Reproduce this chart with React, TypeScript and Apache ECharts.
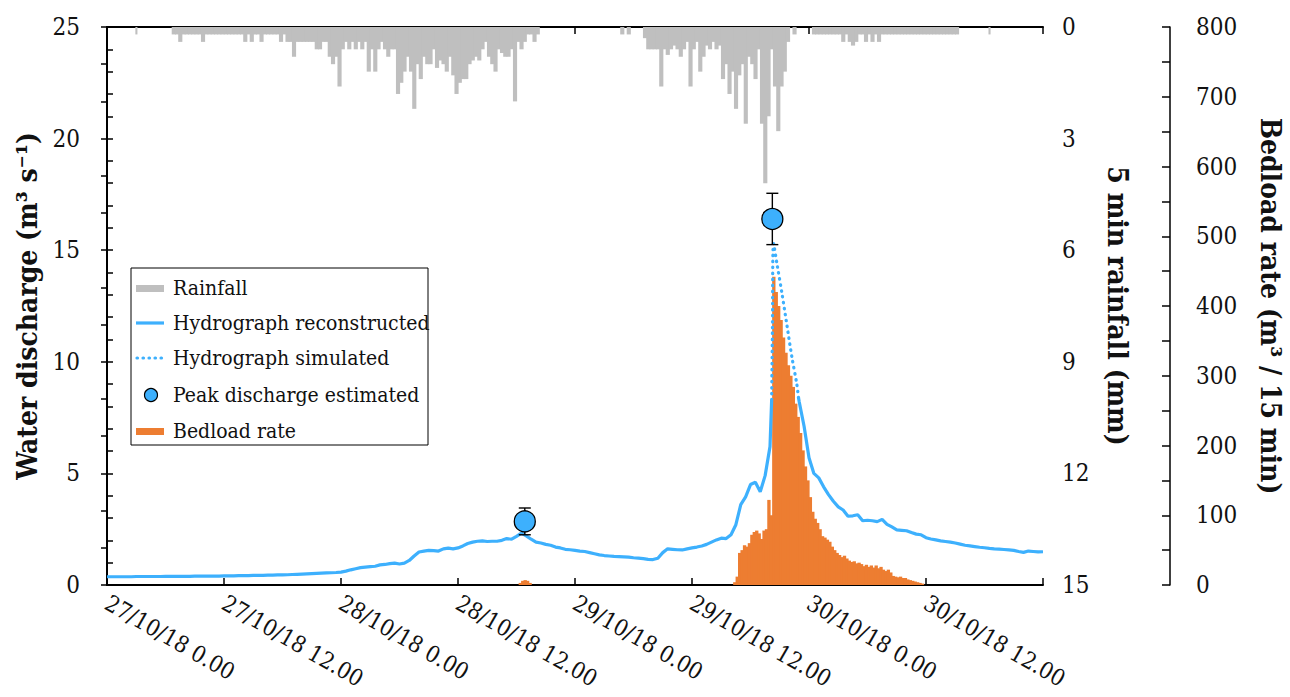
import React, { useEffect, useRef } from 'react';
import * as echarts from 'echarts';

// ---- X axis (hours from 27/10/18 0.00) ----
const xTickLabels = [
  '27/10/18 0.00', '27/10/18 12.00', '28/10/18 0.00', '28/10/18 12.00',
  '29/10/18 0.00', '29/10/18 12.00', '30/10/18 0.00', '30/10/18 12.00', '',
];

// ---- Rainfall (mm per 5 min), 20-min bins, three rain windows ----
const rainStep = 1 / 3;
const rainStart1 = 6.667;
const rain1 = [
  0.2, 0.2, 0.4, 0.2, 0.2, 0.2, 0.2, 0.2, 0.2, 0.4, 0.2, 0.2, 0.2, 0.2, 0.2,
  0.2, 0.2, 0.2, 0.2, 0.2, 0.2, 0.2, 0.4, 0.2, 0.4, 0.2, 0.2, 0.4, 0.2, 0.2,
  0.2, 0.2, 0.2, 0.4, 0.2, 0.4, 0.4, 0.8, 0.4, 0.4, 0.4, 0.4, 0.4, 0.4, 0.6,
  0.6, 0.4, 0.4, 0.8, 1.0, 0.8, 1.6, 0.6, 0.4, 0.6, 0.4, 0.6, 0.4, 0.6, 0.4,
  1.2, 0.6, 1.2, 0.6, 0.4, 0.6, 0.8, 0.6, 0.6, 1.8, 1.5, 1.2, 0.8, 1.2, 2.2,
  1.0, 1.4, 0.8, 1.0, 1.0, 0.6, 1.1, 0.9, 1.0, 1.2, 0.8, 1.3, 1.8, 1.5, 1.4,
  1.4, 1.0, 0.9, 0.8, 0.9, 0.6, 0.4, 0.8, 1.0, 1.2, 0.6, 0.7, 0.8, 0.8, 0.6,
  2.0, 0.4, 0.6, 0.4, 0.2, 0.2, 0.4, 0.2,
];
const rainStart2 = 52.667;
const rain2 = [
  0.2, 0, 0.2, 0, 0, 0, 0, 0.3, 0.6, 0.6, 0.6, 0.6, 1.6, 0.6, 0.75,
  0.6, 0.5, 0.6, 0.8, 0.6, 0.4, 1.6, 0.6, 0.4, 1.2, 0.8, 0.5, 0.6, 0.4, 0.6,
  0.5, 1.4, 1.0, 1.8, 1.2, 2.2, 1.3, 1.0, 2.6, 0.8, 1.0, 1.4, 0.6, 2.6, 4.2,
  2.4, 0.6, 1.6, 2.8, 1.6, 1.2, 0.4, 0, 0.2,
];
const rainStart3 = 72.333;
const rain3 = [
  0.2, 0.2, 0.2, 0.2, 0.2, 0.2, 0.2, 0.2, 0.2, 0.4, 0.2, 0.4, 0.5, 0.4, 0.2,
  0.2, 0.4, 0.2, 0.4, 0.2, 0.4, 0.2, 0.2, 0.2, 0.2, 0.2, 0.2, 0.2, 0.2, 0.2,
  0.2, 0.2, 0.2, 0.2, 0.2, 0.2, 0.2, 0.2, 0.2, 0.2, 0.2, 0.2, 0.2, 0.2, 0.2,
];
const rainSingleHours = [3.0, 90.5];
const rainSingleValues = [0.2, 0.2];

// ---- Hydrograph reconstructed (m3/s), 30-min steps from 0 h ----
const hydroStep = 0.5;
const hydroQ = [
  0.37, 0.37, 0.37, 0.37, 0.37, 0.37, 0.38, 0.38, 0.38, 0.38, 0.38, 0.38,
  0.39, 0.39, 0.39, 0.39, 0.39, 0.39, 0.40, 0.40, 0.40, 0.40, 0.40, 0.40,
  0.41, 0.41, 0.41, 0.42, 0.42, 0.42, 0.43, 0.43, 0.43, 0.44, 0.44, 0.45,
  0.45, 0.46, 0.47, 0.48, 0.49, 0.50, 0.51, 0.52, 0.53, 0.54, 0.55, 0.56,
  0.58, 0.62, 0.68, 0.73, 0.78, 0.80, 0.82, 0.84, 0.90, 0.92, 0.96, 0.98,
  0.94, 0.98, 1.10, 1.30, 1.48, 1.52, 1.55, 1.54, 1.52, 1.62, 1.65, 1.62,
  1.66, 1.75, 1.86, 1.92, 1.96, 1.98, 1.95, 1.96, 1.96, 2.00, 2.08, 2.05,
  2.18, 2.32, 2.20, 2.05, 1.92, 1.88, 1.82, 1.78, 1.70, 1.66, 1.60, 1.58,
  1.55, 1.52, 1.50, 1.45, 1.40, 1.35, 1.32, 1.30, 1.28, 1.27, 1.26, 1.25,
  1.22, 1.20, 1.18, 1.15, 1.14, 1.20, 1.45, 1.62, 1.60, 1.58, 1.57, 1.62,
  1.66, 1.70, 1.75, 1.82, 1.92, 2.02, 2.10, 2.08, 2.25, 2.70, 3.60, 3.95,
  4.50, 4.60, 4.18, 4.90, 6.20, null, null, null, null, null, 8.2, 7.1,
  5.7, 5.0, 4.8, 4.4, 4.05, 3.75, 3.5, 3.36, 3.08, 3.10, 3.15, 2.88,
  2.90, 2.88, 2.84, 2.94, 2.72, 2.60, 2.47, 2.45, 2.43, 2.35, 2.28, 2.25,
  2.12, 2.06, 2.02, 1.98, 1.95, 1.92, 1.88, 1.83, 1.78, 1.75, 1.72, 1.69,
  1.67, 1.64, 1.62, 1.61, 1.59, 1.57, 1.55, 1.50, 1.46, 1.52, 1.50, 1.48, 1.49,
];

// ---- Hydrograph simulated (peak segment) ----
const simHours = [68.17, 68.25, 68.36, 68.75, 69.25, 69.75, 70.25, 70.75, 70.92];
const simQ = [8.3, 11.5, 15.3, 14.3, 13.0, 11.6, 10.2, 9.0, 8.4];

// ---- Peak discharge estimated ----
const peakHours = [42.85, 68.24];
const peakQ = [2.85, 16.4];
const peakLow = [2.25, 15.25];
const peakHigh = [3.45, 17.55];

// ---- Bedload rate (m3 / 15 min), 15-min bins ----
const bedStep = 0.25;
const bedStart1 = 42.25;
const bed1 = [3, 6, 7, 6, 3];
const bedStart2 = 64.25;
const bed2 = [
  4, 12, 46, 50, 57, 55, 60, 72, 76, 78, 74, 66, 78, 80, 122, 100,
  442, 420, 400, 380, 355, 333, 315, 300, 284, 260, 241, 218, 193, 170, 150, 126,
  105, 95, 89, 80, 70, 68, 65, 62, 55, 50, 46, 43, 40, 42, 38, 35,
  33, 34, 31, 32, 30, 27, 29, 26, 28, 25, 28, 24, 26, 22, 20, 22,
  18, 13, 12, 11, 12, 10, 10, 8, 7, 6, 5, 4, 3, 2,
];

const BLUE = '#3DB0FD';
const GRAY = '#BFBFBF';
const ORANGE = '#ED7D31';
const FONT = 'DejaVu Serif Condensed';
const TXT = '#111';

// [binStart, binEnd, value]
function binned(start: number, step: number, vals: number[]) {
  const out: number[][] = [];
  vals.forEach((v, i) => {
    if (v > 0) out.push([start + i * step, start + (i + 1) * step, v]);
  });
  return out;
}

function binRenderer(color: string) {
  return (params: any, api: any) => {
    const p0 = api.coord([api.value(0), 0]);
    const p1 = api.coord([api.value(1), api.value(2)]);
    const x = Math.min(p0[0], p1[0]) - 0.3;
    const w = Math.abs(p1[0] - p0[0]) + 0.9;
    const y = Math.min(p0[1], p1[1]);
    const h = Math.abs(p1[1] - p0[1]);
    return { type: 'rect', shape: { x, y, width: w, height: h }, style: { fill: color } };
  };
}

export default function App() {
  const ref = useRef<HTMLDivElement>(null);
  useEffect(() => {
    if (!ref.current) return;
    const chart = echarts.init(ref.current, undefined, { renderer: 'svg' });

    const rainData = [
      ...binned(rainStart1, rainStep, rain1),
      ...binned(rainStart2, rainStep, rain2),
      ...binned(rainStart3, rainStep, rain3),
      ...rainSingleHours.map((h, i) => [h - 0.06, h + 0.06, rainSingleValues[i]]),
    ];
    const bedData = [...binned(bedStart1, bedStep, bed1), ...binned(bedStart2, bedStep, bed2)];

    const recon: (number | null)[][] = hydroQ.map((q, k) => [k * hydroStep, q]);
    recon.push([simHours[0], simQ[0]]);
    recon.push([simHours[simHours.length - 1], simQ[simQ.length - 1]]);
    recon.sort((a, b) => (a[0] as number) - (b[0] as number));
    const reconData = recon.map((p) => (p[1] == null ? [p[0], '-'] : p));

    const simData = simHours.map((h, i) => [h, simQ[i]]);
    const peakData = peakHours.map((h, i) => [h, peakQ[i]]);
    const errData = peakHours.map((h, i) => [h, peakLow[i], peakHigh[i]]);

    const axisLineBlack = { show: true, lineStyle: { color: '#000', width: 2 } };
    const labelStyle = { color: TXT, fontFamily: FONT, fontSize: 24 };
    const nameStyle = { color: TXT, fontFamily: FONT, fontSize: 28, fontWeight: 'bold' as const };

    const legendY = [288, 323, 358, 395, 431];
    const legendTexts = [
      'Rainfall', 'Hydrograph reconstructed', 'Hydrograph simulated',
      'Peak discharge estimated', 'Bedload rate',
    ];

    chart.setOption({
      animation: false,
      backgroundColor: '#fff',
      grid: {
        left: 107, right: 247, top: 27, bottom: 112,
        containLabel: false, outerBoundsMode: 'none',
      },
      xAxis: [
        {
          type: 'value', min: 0, max: 96, interval: 12, position: 'bottom',
          axisLine: axisLineBlack,
          axisTick: { show: true, inside: true, length: 7, lineStyle: { color: '#000', width: 1.5 } },
          axisLabel: {
            ...labelStyle, fontSize: 23, rotate: -30, margin: 16,
            formatter: (v: number) => xTickLabels[Math.round(v / 12)] ?? '',
          },
          splitLine: { show: false },
        },
        {
          type: 'value', min: 0, max: 96, interval: 12, position: 'top',
          axisLine: axisLineBlack,
          axisTick: { show: true, inside: true, length: 7, lineStyle: { color: '#000', width: 1.5 } },
          axisLabel: { show: false },
          splitLine: { show: false },
        },
      ],
      yAxis: [
        {
          type: 'value', min: 0, max: 25, interval: 1, position: 'left',
          axisLine: axisLineBlack,
          axisTick: { show: true, inside: true, length: 6, lineStyle: { color: '#000', width: 1.5 } },
          axisLabel: { ...labelStyle, margin: 27, formatter: (v: number) => (v % 5 === 0 ? String(v) : '') },
          splitLine: { show: false },
          name: 'Water discharge (m³ s⁻¹)', nameLocation: 'middle', nameGap: 57, nameRotate: 90,
          nameTextStyle: nameStyle,
        },
        {
          type: 'value', min: 0, max: 15, interval: 1, position: 'right', inverse: true,
          axisLine: axisLineBlack,
          axisTick: { show: true, inside: true, length: 6, lineStyle: { color: '#000', width: 1.5 } },
          axisLabel: { ...labelStyle, margin: 19, formatter: (v: number) => (v % 3 === 0 ? String(v) : '') },
          splitLine: { show: false },
          name: '5 min rainfall (mm)', nameLocation: 'middle', nameGap: 60, nameRotate: -90,
          nameTextStyle: nameStyle,
        },
        {
          type: 'value', min: 0, max: 800, interval: 50, position: 'right', offset: 127,
          axisLine: { show: true, lineStyle: { color: '#000', width: 1.5 } },
          axisTick: { show: true, inside: true, length: 8, lineStyle: { color: '#000', width: 1.5 } },
          axisLabel: { ...labelStyle, margin: 26, formatter: (v: number) => (v % 100 === 0 ? String(v) : '') },
          splitLine: { show: false },
          name: 'Bedload rate (m³ / 15 min)', nameLocation: 'middle', nameGap: 86, nameRotate: -90,
          nameTextStyle: nameStyle,
        },
      ],
      series: [
        {
          name: 'Rainfall', type: 'custom', xAxisIndex: 1, yAxisIndex: 1, data: rainData,
          encode: { x: [0, 1], y: 2 }, renderItem: binRenderer(GRAY), z: 1,
        },
        {
          name: 'Bedload rate', type: 'custom', xAxisIndex: 0, yAxisIndex: 2, data: bedData,
          encode: { x: [0, 1], y: 2 }, renderItem: binRenderer(ORANGE), z: 2,
        },
        {
          name: 'Hydrograph reconstructed', type: 'line', xAxisIndex: 0, yAxisIndex: 0,
          data: reconData, showSymbol: false, symbol: 'none', connectNulls: false,
          lineStyle: { color: BLUE, width: 3.2 }, z: 3,
        },
        {
          name: 'Hydrograph simulated', type: 'line', xAxisIndex: 0, yAxisIndex: 0,
          data: simData, showSymbol: false, symbol: 'none', smooth: 0.3,
          lineStyle: { color: BLUE, width: 3.2, type: [0.5, 5.5], cap: 'round' }, z: 3,
        },
        {
          name: 'error', type: 'custom', xAxisIndex: 0, yAxisIndex: 0, data: errData, z: 4,
          encode: { x: 0, y: [1, 2] },
          renderItem: (params: any, api: any) => {
            const x = api.value(0);
            const lo = api.coord([x, api.value(1)]);
            const hi = api.coord([x, api.value(2)]);
            const cap = 6;
            const st = { stroke: '#000', lineWidth: 1.4 };
            return {
              type: 'group',
              children: [
                { type: 'line', shape: { x1: lo[0], y1: lo[1], x2: hi[0], y2: hi[1] }, style: st },
                { type: 'line', shape: { x1: lo[0] - cap, y1: lo[1], x2: lo[0] + cap, y2: lo[1] }, style: st },
                { type: 'line', shape: { x1: hi[0] - cap, y1: hi[1], x2: hi[0] + cap, y2: hi[1] }, style: st },
              ],
            };
          },
        },
        {
          name: 'Peak discharge estimated', type: 'scatter', xAxisIndex: 0, yAxisIndex: 0,
          data: peakData, symbol: 'circle', symbolSize: 21,
          itemStyle: { color: BLUE, borderColor: '#000', borderWidth: 1.3, opacity: 1 }, z: 5,
        },
      ],
      graphic: [
        {
          type: 'group', z: 100,
          children: [
            { type: 'rect', shape: { x: 131, y: 268, width: 297, height: 177 },
              style: { fill: '#fff', stroke: '#000', lineWidth: 1 } },
            { type: 'rect', shape: { x: 136, y: 285, width: 28, height: 7 }, style: { fill: GRAY } },
            { type: 'line', shape: { x1: 136, y1: legendY[1], x2: 164, y2: legendY[1] },
              style: { stroke: BLUE, lineWidth: 3.2 } },
            { type: 'line', shape: { x1: 137, y1: legendY[2], x2: 164, y2: legendY[2] },
              style: { stroke: BLUE, lineWidth: 3.2, lineDash: [0.5, 5.5], lineCap: 'round' } },
            { type: 'circle', shape: { cx: 151, cy: legendY[3], r: 6.5 },
              style: { fill: BLUE, stroke: '#000', lineWidth: 1.2 } },
            { type: 'rect', shape: { x: 136, y: 428, width: 28, height: 7 }, style: { fill: ORANGE } },
            ...legendTexts.map((t, i) => ({
              type: 'text', x: 173, y: legendY[i],
              style: {
                text: t, fill: TXT, fontFamily: FONT, fontSize: 21,
                verticalAlign: 'middle', align: 'left',
              },
            })),
          ],
        },
      ],
    });
    return () => chart.dispose();
  }, []);
  return (
    <div
      ref={ref}
      style={{ position: 'fixed', left: 0, top: 0, width: 1290, height: 697, background: '#fff' }}
    />
  );
}
